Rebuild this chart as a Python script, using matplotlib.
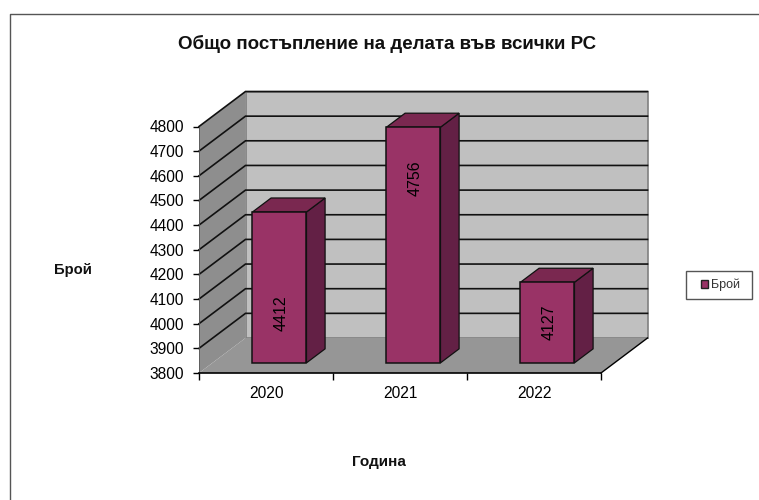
# -*- coding: utf-8 -*-
import numpy as np
import matplotlib
matplotlib.use("Agg")
import matplotlib.pyplot as plt
from matplotlib.patches import Polygon, Patch, Rectangle

plt.rcParams['font.family'] = ['Liberation Sans', 'DejaVu Sans']

# datos
years = ['2020', '2021', '2022']
counts = [4412, 4756, 4127]
label_heights = [4044, 4589, 4004]   # donde esta escrito cada numero en la barra
y_ticks = np.arange(3800, 4801, 100)

W, H = 759, 500
fig = plt.figure(figsize=(W / 100, H / 100), dpi=100)

# el eje frontal ocupa de x=199 a x=601 y de y=373 a y=126.5 (pixeles)
ax = fig.add_axes([199 / W, 1 - 373 / H, 402 / W, 246.5 / H])
ax.set_xlim(-0.5, 2.5)
ax.set_ylim(3800, 4800)
ax.patch.set_visible(False)

# vector de profundidad en unidades de datos
DX = 46.5 / 134
DY = 35 / 0.2465
x0, x1 = -0.5, 2.5
y0, y1 = 3800, 4800


def poly(points, color, edge='none', lw=0.0, z=1):
    ax.add_patch(Polygon(points, closed=True, facecolor=color, edgecolor=edge,
                         linewidth=lw, zorder=z, clip_on=False))


# paredes y piso
poly([(x0 + DX, y0 + DY), (x1 + DX, y0 + DY), (x1 + DX, y1 + DY), (x0 + DX, y1 + DY)],
     '#c0c0c0', '#808080', 1.2)
poly([(x0, y0), (x0 + DX, y0 + DY), (x0 + DX, y1 + DY), (x0, y1)], '#8e8e8e')
poly([(x0, y0), (x1, y0), (x1 + DX, y0 + DY), (x0 + DX, y0 + DY)], '#969696')

# lineas de la grilla
for v in y_ticks[1:]:
    ax.plot([x0, x0 + DX, x1 + DX], [v, v + DY, v + DY], color='#111111', lw=1.2,
            zorder=2, clip_on=False, solid_joinstyle='miter')
ax.plot([x1, x1 + DX], [y0, y0 + DY], color='black', lw=1.0, zorder=2, clip_on=False)

# barras
bar_w = 0.403
d_a, d_b = 0.29, 0.69
front = '#993366'
for i, val in enumerate(counts):
    left = i - bar_w / 2 + d_a * DX
    right = i + bar_w / 2 + d_a * DX
    base = y0 + d_a * DY
    top = val + d_a * DY
    ddx = (d_b - d_a) * DX
    ddy = (d_b - d_a) * DY
    poly([(right, base), (right + ddx, base + ddy), (right + ddx, top + ddy), (right, top)],
         '#632045', '#111111', 0.9, 3)
    poly([(left, top), (right, top), (right + ddx, top + ddy), (left + ddx, top + ddy)],
         '#7a2850', '#111111', 0.9, 3)
    poly([(left, base), (right, base), (right, top), (left, top)],
         front, '#111111', 1.1, 4)
    ax.text((left + right) / 2 + 0.012, label_heights[i], str(val),
            rotation=90, ha='center', va='center', fontsize=11.5, color='black', zorder=5)

# ejes
for s in ['top', 'right']:
    ax.spines[s].set_visible(False)
ax.spines['left'].set_color('#555555')
ax.spines['left'].set_linewidth(0.6)
ax.spines['left'].set_zorder(2)
ax.spines['bottom'].set_color('black')
ax.spines['bottom'].set_linewidth(1.2)
ax.spines['bottom'].set_zorder(6)

ax.set_yticks(y_ticks)
ax.tick_params(axis='y', length=4, width=1, pad=7, labelsize=11.2)
ax.set_xticks([-0.5, 0.5, 1.5, 2.5])
ax.set_xticklabels([])
ax.set_xticks([0, 1, 2], minor=True)
ax.set_xticklabels(years, minor=True, fontsize=11.2)
ax.tick_params(axis='x', which='major', length=5, width=1)
ax.tick_params(axis='x', which='minor', length=0, pad=9.5)

# leyenda: el recuadro va aparte para que quede mas ancho que el contenido
fig.add_artist(Rectangle((685.5 / W, 1 - 299 / H), 66 / W, 28.5 / H, transform=fig.transFigure,
                         facecolor='white', edgecolor='#555555', linewidth=1.0))
leg = fig.legend(handles=[Patch(facecolor=front, edgecolor='#222222', linewidth=1, label='Брой')],
                 loc='center', bbox_to_anchor=(720.5 / W, 1 - 285 / H), fontsize=9,
                 frameon=False, handlelength=0.6, handleheight=0.6, handletextpad=0.25,
                 borderpad=0.7, borderaxespad=0)
leg.get_texts()[0].set_color('#333333')

# textos
fig.text(387 / W, 1 - 44 / H, 'Общо постъпление на делата във всички РС', ha='center',
         va='center', fontsize=13.5, fontweight='bold', color='#111111')
fig.text(73 / W, 1 - 270 / H, 'Брой', ha='center', va='center', fontsize=10.7,
         fontweight='bold', color='#111111')
fig.text(379 / W, 1 - 462 / H, 'Година', ha='center', va='center', fontsize=11,
         fontweight='bold', color='#111111')

# marco exterior (solo arriba e izquierda se ven)
fig.add_artist(plt.Line2D([9.5 / W, 9.5 / W, 1], [0, 1 - 13.5 / H, 1 - 13.5 / H],
                          transform=fig.transFigure, color='#555555', lw=1.0))

fig.savefig('out.png', dpi=100)
